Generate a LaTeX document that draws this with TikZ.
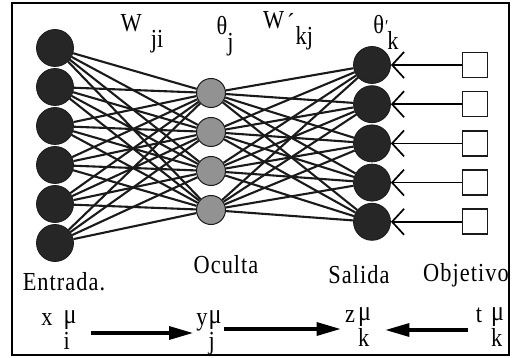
\documentclass[tikz,border=0pt]{standalone}
\usepackage{fontspec}
\setmainfont[FakeStretch=0.86]{Liberation Serif}
\usetikzlibrary{arrows.meta,positioning}
\definecolor{ink}{HTML}{1A1A1A}
\definecolor{dark}{HTML}{262626}
\definecolor{mid}{HTML}{929292}
\newcommand{\updn}[2]{\raisebox{-0.36\height}{\begin{tabular}{@{}l@{}}#1\\[-2pt]#2\end{tabular}}}
\newcommand{\lowr}[1]{\raisebox{-0.62em}{#1}}
\newcommand{\mupat}{{\fontsize{28}{28}\selectfont μ}}

\begin{document}
\begin{tikzpicture}[x=1pt,y=-1pt,
    inp/.style={circle,draw=ink,fill=dark,minimum size=37pt,inner sep=0pt},
    hid/.style={circle,draw=ink,line width=1pt,fill=mid,minimum size=29pt,inner sep=0pt},
    goal/.style={draw=ink,line width=1.6pt,fill=white,minimum size=25pt,inner sep=0pt},
    lbl/.style={font=\fontsize{26}{28}\selectfont,inner sep=0pt},
    link/.style={draw=ink,line width=2.1pt},
    pat/.style={line width=3.2pt,-{Triangle[length=24pt,width=13pt]}},
    >={Stealth[]},thick]
    \useasboundingbox (0,0) rectangle (514,358);
    \draw[line width=2.2pt] (12,3) rectangle (509,355);
    % layers
    \foreach \i in {1,...,6} \node[inp] (in\i) at (55,{48+39*(\i-1)}) {};
    \foreach \j in {1,...,4} \node[hid] (hid\j) at (211,{93+39*(\j-1)}) {};
    \foreach \k in {1,...,5} \node[inp] (out\k) at (372,{65+39.2*(\k-1)}) {};
    \foreach \k in {1,...,5} \node[goal] (obj\k) at (475,{65+39.2*(\k-1)}) {};
    % weights
    \foreach \i in {1,...,6} \foreach \j in {1,...,4} \draw[link] (in\i)--(hid\j);
    \foreach \j in {1,...,4} \foreach \k in {1,...,5} \draw[link] (hid\j)--(out\k);
    \foreach \k in {1,...,5} \draw[line width=1.7pt,-{Straight Barb[length=12pt,width=26pt]}] (obj\k)--(out\k);
    % labels
    \node[lbl] (wji) at (142,34) {W\hspace{9pt}\lowr{ji}};
    \node[lbl] (thj) at (225,36) {θ\lowr{j}};
    \node[lbl] (wkj) at (288,31) {W\hspace{3pt}\raisebox{-0.1em}{´}\hspace{1pt}\lowr{kj}};
    \node[lbl] (thk) at (386,32) {θ\hspace{1pt}\raisebox{0.02em}{\fontsize{18}{18}\selectfont ′}\hspace{-1pt}\lowr{k}};
    \node[lbl] (ent) at (64,282) {\addfontfeature{LetterSpace=4}Entrada.};
    \node[lbl] (ocu) at (226,265) {\addfontfeature{LetterSpace=4}Oculta};
    \node[lbl] (sal) at (359,275) {\addfontfeature{LetterSpace=4}Salida};
    \node[lbl] (objt) at (466,275) {\addfontfeature{LetterSpace=4}Objetivo};
    % patterns
    \node[lbl] (xi) at (59,331) {x\hspace{11pt}\updn{\mupat}{i}};
    \node[lbl] (yj) at (209,331) {y\hspace{1pt}\updn{\mupat}{j}};
    \node[lbl] (zk) at (358,328) {z\hspace{3pt}\updn{\mupat}{k}};
    \node[lbl] (tk) at (490,328) {t\hspace{9pt}\updn{\mupat}{k}};
    \draw[pat] ([xshift=14pt,yshift=-2pt]xi.east)--([xshift=-3pt,yshift=-2pt]yj.west |- xi.east);
    \draw[pat] ([xshift=2pt,yshift=2pt]yj.east)--([xshift=-4pt,yshift=2pt]zk.west |- yj.east);
    \draw[pat] ([xshift=-8pt,yshift=-2pt]tk.west)--([xshift=14pt,yshift=-2pt]zk.east);
\end{tikzpicture}
\end{document}
